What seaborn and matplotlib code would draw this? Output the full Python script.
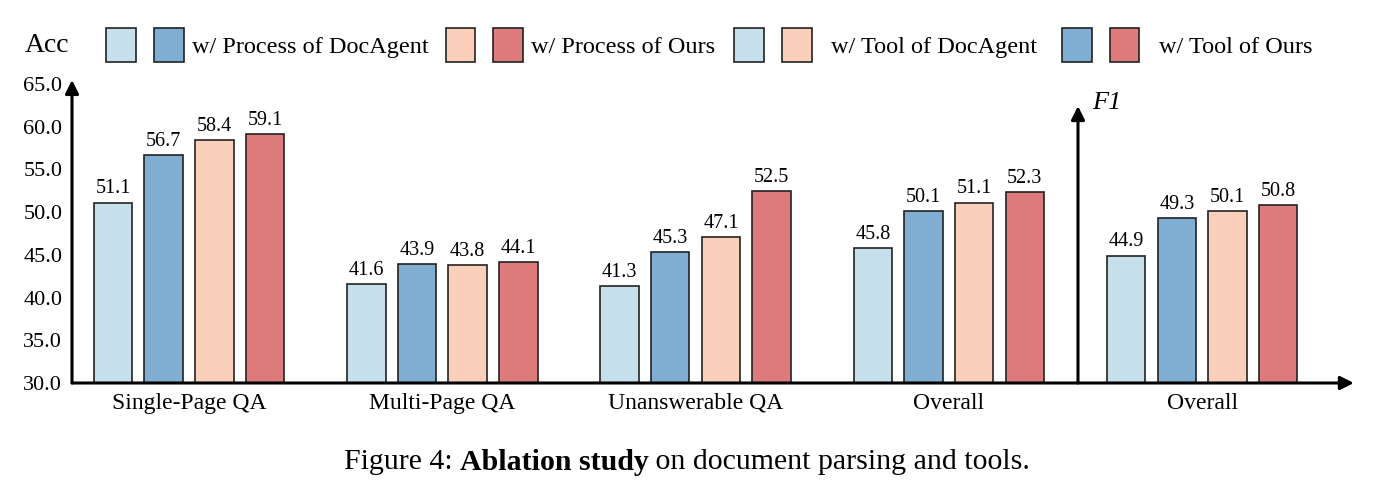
import numpy as np
import pandas as pd
import matplotlib
matplotlib.use("Agg")
import matplotlib.pyplot as plt
import seaborn as sns
from matplotlib.patches import Patch
from matplotlib.legend_handler import HandlerTuple

# ---- data ----
groups = ["Single-Page QA", "Multi-Page QA", "Unanswerable QA", "Overall", "Overall (F1)"]
tick_labels = ["Single-Page QA", "Multi-Page QA", "Unanswerable QA", "Overall", "Overall"]
settings = ["Process DocAgent + Tool DocAgent", "Process DocAgent + Tool Ours",
            "Process Ours + Tool DocAgent", "Process Ours + Tool Ours"]
proc_doc_tool_doc = [51.1, 41.6, 41.3, 45.8, 44.9]
proc_doc_tool_ours = [56.7, 43.9, 45.3, 50.1, 49.3]
proc_ours_tool_doc = [58.4, 43.8, 47.1, 51.1, 50.1]
proc_ours_tool_ours = [59.1, 44.1, 52.5, 52.3, 50.8]
yticks = [30, 35, 40, 45, 50, 55, 60, 65]
process_labels = ["w/ Process of DocAgent", "w/ Process of Ours"]
process_pairs = [(0, 1), (2, 3)]
tool_labels = ["w/ Tool of DocAgent", "w/ Tool of Ours"]
tool_pairs = [(0, 2), (1, 3)]

colors = ["#C5E0EA", "#80AED3", "#FBD0BB", "#DC7A7C"]

df = pd.DataFrame({
    "group": groups * 4,
    "setting": np.repeat(settings, len(groups)),
    "value": proc_doc_tool_doc + proc_doc_tool_ours + proc_ours_tool_doc + proc_ours_tool_ours,
})

sns.set_theme(style="white")
plt.rcParams["font.family"] = ["Liberation Serif", "DejaVu Serif"]
plt.rcParams["text.color"] = "black"
plt.rcParams["xtick.color"] = "black"
plt.rcParams["ytick.color"] = "black"

fig = plt.figure(figsize=(13.74, 4.95), dpi=100)
ax = fig.add_axes([72 / 1374, 112 / 495, 1278 / 1374, 300 / 495])

sns.barplot(data=df, x="group", y="value", hue="setting", hue_order=settings,
            order=groups, palette=colors, width=0.8, gap=0.24,
            edgecolor="#222222", linewidth=1.2, saturation=1, legend=False, ax=ax)

for cont in ax.containers:
    ax.bar_label(cont, fmt="%.1f", padding=3, fontsize=14.5, color="black")

ax.set_xlim(-0.462, 4.584)
ax.set_ylim(30, 65.1)
ax.set_yticks(yticks)
ax.set_yticklabels([f"{v:.1f}" for v in yticks])
ax.set_xticks(range(len(groups)))
ax.set_xticklabels(tick_labels)
ax.tick_params(axis="both", length=0, colors="black")
ax.tick_params(axis="y", pad=7, labelsize=16)
ax.tick_params(axis="x", pad=7, labelsize=17)
ax.set_xlabel("")
ax.set_ylabel("")
for s in ax.spines.values():
    s.set_visible(False)

arrow = dict(arrowstyle="-|>", lw=2.2, color="black", mutation_scale=20,
             shrinkA=0, shrinkB=0)
ax.annotate("", xy=(0, 1.01), xytext=(0, 0), xycoords="axes fraction",
            arrowprops=arrow, annotation_clip=False)
ax.annotate("", xy=(1.003, 0), xytext=(0, 0), xycoords="axes fraction",
            arrowprops=arrow, annotation_clip=False)
# second axis for F1
ax.annotate("", xy=(3.51, 62.4), xytext=(3.51, 30), xycoords="data",
            arrowprops=arrow, annotation_clip=False)
ax.text(3.566, 62.75, "F1", fontsize=19, style="italic", va="center", ha="left")

# legend (two parts, the tool part has wider text padding)
fig.text(25 / 1374, 1 - 46 / 495, "Acc", fontsize=20, va="center", ha="left")


def make_handles(pairs):
    return [tuple(Patch(facecolor=colors[i], edgecolor="#222222", linewidth=1.2) for i in p)
            for p in pairs]


leg_kw = dict(handler_map={tuple: HandlerTuple(ndivide=None, pad=0.74)},
              loc="center left", ncol=2, frameon=False, fontsize=17.5,
              handlelength=3.2, handleheight=1.76, borderpad=0, borderaxespad=0)
fig.legend(make_handles(process_pairs), process_labels,
           bbox_to_anchor=(106 / 1374, 1 - 45 / 495),
           handletextpad=0.33, columnspacing=0.7, **leg_kw)
fig.legend(make_handles(tool_pairs), tool_labels,
           bbox_to_anchor=(734 / 1374, 1 - 45 / 495),
           handletextpad=0.8, columnspacing=1.0, **leg_kw)

# caption
renderer = fig.canvas.get_renderer()
parts = [("Figure 4: ", "normal"), ("Ablation study", "bold"),
         (" on document parsing and tools.", "normal")]
texts = []
for s, w in parts:
    t = fig.text(0, 1 - 462 / 495, s, fontsize=21.5, fontweight=w, va="center", ha="left")
    texts.append(t)
widths = [t.get_window_extent(renderer).width for t in texts]
x0 = (1374 - sum(widths)) / 2
for t, w in zip(texts, widths):
    t.set_x(x0 / 1374)
    x0 += w

fig.savefig("out.png", dpi=100)
